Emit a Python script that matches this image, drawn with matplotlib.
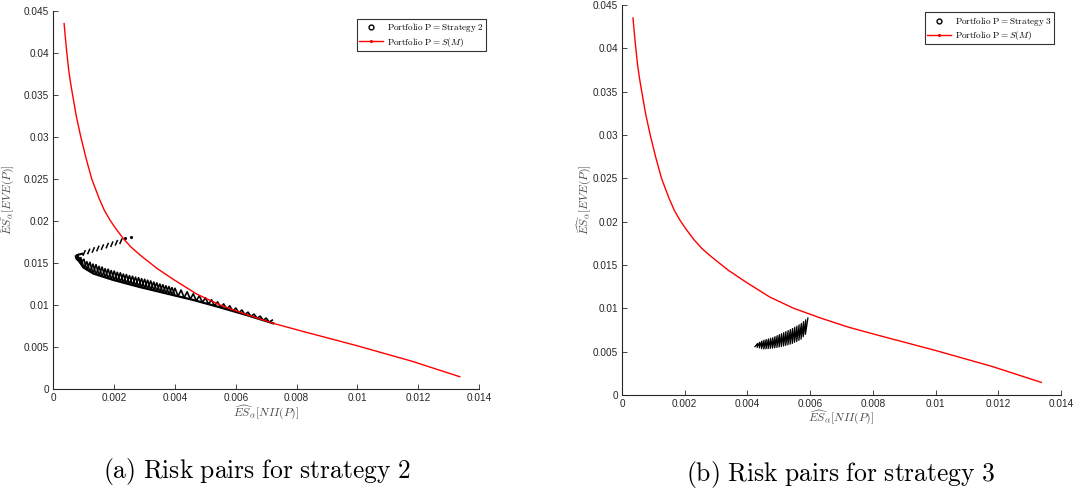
import numpy as np
import matplotlib
matplotlib.use("Agg")
import matplotlib.pyplot as plt
from matplotlib.lines import Line2D

plt.rcParams['mathtext.fontset'] = 'cm'
plt.rcParams['font.family'] = ['Liberation Sans', 'DejaVu Sans']

# efficient frontier S(M), same in both panels
sm_x = [0.00035, 0.0004, 0.00044, 0.0005, 0.00056, 0.00063, 0.00075, 0.0009, 0.00107, 0.00126,
        0.0015, 0.00167, 0.00186, 0.00205, 0.0023, 0.00255, 0.00285, 0.0034, 0.00394, 0.00471,
        0.00548, 0.00636, 0.00723, 0.00811, 0.00998, 0.0118, 0.01337]
sm_y = [0.0435, 0.0415, 0.040, 0.038, 0.0365, 0.035, 0.0325, 0.030, 0.0275, 0.025,
        0.0227, 0.0213, 0.0201, 0.0191, 0.0179, 0.0169, 0.01595, 0.01437, 0.01306, 0.01131,
        0.0100, 0.00885, 0.00782, 0.00695, 0.00516, 0.0033, 0.00146]

# strategy 2: main band (zigzag bottoms / tops)
s2_bot_x = [0.0009, 0.0011, 0.0013, 0.0015, 0.0017, 0.0019, 0.0021, 0.0023, 0.0025, 0.0027,
            0.0029, 0.0031, 0.0033, 0.0035, 0.0037, 0.0039, 0.0041, 0.0043, 0.0045, 0.0047,
            0.0049, 0.0051, 0.0053, 0.0055, 0.0057, 0.0059, 0.0061, 0.0063, 0.0065, 0.0067,
            0.0069, 0.0071]
s2_bot_y = [0.01497, 0.0142, 0.01377, 0.01352, 0.01328, 0.01305, 0.01285, 0.01266, 0.01247, 0.01228,
            0.0121, 0.01192, 0.01175, 0.01157, 0.0114, 0.01122, 0.01105, 0.01087, 0.01069, 0.0105,
            0.0103, 0.0101, 0.0099, 0.0097, 0.00949, 0.00928, 0.00907, 0.00886, 0.00864, 0.00841,
            0.00819, 0.00796]
s2_top_x = [0.001, 0.0012, 0.0014, 0.0016, 0.0018, 0.002, 0.0022, 0.0024, 0.0026, 0.0028,
            0.003, 0.0032, 0.0034, 0.0036, 0.0038, 0.004, 0.0042, 0.0044, 0.0046, 0.0048,
            0.005, 0.0052, 0.0054, 0.0056, 0.0058, 0.006, 0.0062, 0.0064, 0.0066, 0.0068,
            0.007, 0.0072]
s2_top_y = [0.01545, 0.01508, 0.0148, 0.01452, 0.01426, 0.01404, 0.01383, 0.01362, 0.01343, 0.01325,
            0.01306, 0.01286, 0.01263, 0.01241, 0.0122, 0.01199, 0.01178, 0.01157, 0.01133, 0.0111,
            0.01086, 0.01062, 0.01038, 0.01013, 0.0099, 0.00964, 0.0094, 0.00915, 0.00892, 0.00868,
            0.00844, 0.0082]
# crossing strokes in the thick left part of the band
s2_x2_top_x = [0.0009, 0.0011, 0.0013, 0.0015, 0.0017, 0.0019, 0.0021, 0.0023, 0.0025, 0.0027,
               0.0029, 0.0031, 0.0033, 0.0035, 0.0037, 0.0039]
s2_x2_top_y = [0.01562, 0.01515, 0.01487, 0.01459, 0.01432, 0.0141, 0.01389, 0.01368, 0.01349, 0.01331,
               0.01313, 0.01295, 0.01273, 0.0125, 0.01228, 0.01207]
s2_x2_bot_x = [0.001, 0.0012, 0.0014, 0.0016, 0.0018, 0.002, 0.0022, 0.0024, 0.0026, 0.0028,
               0.003, 0.0032, 0.0034, 0.0036, 0.0038, 0.004]
s2_x2_bot_y = [0.01445, 0.01398, 0.01364, 0.0134, 0.01316, 0.01295, 0.01275, 0.01256, 0.01237, 0.01219,
               0.01201, 0.01183, 0.01166, 0.01148, 0.01131, 0.01114]
# dense lower edge of the band
s2_edge_x = [0.00074, 0.00098, 0.00131, 0.00197, 0.00285, 0.00372, 0.0046, 0.00548, 0.00636, 0.00723]
s2_edge_y = [0.0158, 0.01448, 0.01375, 0.01298, 0.01213, 0.01137, 0.0106, 0.00972, 0.0088, 0.00782]
# curl at the left tip
s2_tip_x = [0.00095, 0.00082, 0.00075, 0.00074, 0.00077, 0.00085, 0.00095, 0.00088, 0.0008,
            0.00078, 0.00084, 0.00093]
s2_tip_y = [0.0161, 0.016, 0.01585, 0.01565, 0.01545, 0.0152, 0.015, 0.0154, 0.0157,
            0.0159, 0.01555, 0.01525]
# upper branch: short strokes + two loose points
s2_br_x0 = [0.00098, 0.00113, 0.00128, 0.00143, 0.00158, 0.00174, 0.00189, 0.00204, 0.00219]
s2_br_y0 = [0.01595, 0.01612, 0.0163, 0.01647, 0.01664, 0.01682, 0.01699, 0.01716, 0.01734]
s2_br_x1 = [0.00104, 0.00119, 0.00134, 0.00149, 0.00164, 0.0018, 0.00195, 0.0021, 0.00225]
s2_br_y1 = [0.01645, 0.01662, 0.0168, 0.01697, 0.01714, 0.01732, 0.01749, 0.01766, 0.01784]
s2_dot_x = [0.00235, 0.00254]
s2_dot_y = [0.01794, 0.01806]

# strategy 3: crescent of steep strokes
s3_bot_x = [0.00424, 0.00431, 0.00438, 0.00445, 0.00452, 0.00459, 0.00466, 0.00473, 0.0048, 0.00487,
            0.00494, 0.00501, 0.00508, 0.00515, 0.00522, 0.00529, 0.00536, 0.00543, 0.0055, 0.00557,
            0.00564, 0.00571, 0.00578, 0.00585]
s3_bot_y = [0.00557, 0.0055, 0.00543, 0.00535, 0.00531, 0.00533, 0.00535, 0.00538, 0.0054, 0.00545,
            0.00549, 0.00554, 0.00559, 0.00565, 0.00572, 0.00579, 0.00586, 0.00595, 0.00607, 0.00618,
            0.0063, 0.00644, 0.00672, 0.007]
s3_top_x = [0.00432, 0.00439, 0.00446, 0.00453, 0.0046, 0.00467, 0.00474, 0.00481, 0.00488, 0.00495,
            0.00502, 0.00509, 0.00516, 0.00523, 0.0053, 0.00537, 0.00544, 0.00551, 0.00558, 0.00565,
            0.00572, 0.00579, 0.00586, 0.00593]
s3_top_y = [0.00594, 0.00608, 0.00622, 0.00633, 0.0064, 0.00647, 0.00654, 0.00662, 0.00673, 0.00685,
            0.00697, 0.00708, 0.0072, 0.00732, 0.00743, 0.00755, 0.00768, 0.00782, 0.00796, 0.0081,
            0.00826, 0.00847, 0.00868, 0.00889]

x_ticks = [0, 0.002, 0.004, 0.006, 0.008, 0.01, 0.012, 0.014]
x_ticklabels = ['0', '0.002', '0.004', '0.006', '0.008', '0.01', '0.012', '0.014']
y_ticks = [0, 0.005, 0.01, 0.015, 0.02, 0.025, 0.03, 0.035, 0.04, 0.045]
y_ticklabels = ['0', '0.005', '0.01', '0.015', '0.02', '0.025', '0.03', '0.035', '0.04', '0.045']

GREY = '#262626'


def zigzag(bx, by, tx, ty):
    xs = np.column_stack([bx, tx]).ravel()
    ys = np.column_stack([by, ty]).ravel()
    return xs, ys


def style_axes(ax):
    ax.set_xlim(0, 0.014)
    ax.set_ylim(0, 0.045)
    ax.set_xticks(x_ticks)
    ax.set_xticklabels(x_ticklabels)
    ax.set_yticks(y_ticks)
    ax.set_yticklabels(y_ticklabels)
    for s in ['top', 'right']:
        ax.spines[s].set_visible(False)
    for s in ['left', 'bottom']:
        ax.spines[s].set_color(GREY)
        ax.spines[s].set_linewidth(0.8)
    ax.tick_params(direction='in', length=3.5, width=0.6, colors=GREY,
                   labelsize=7.2, pad=3)
    ax.set_xlabel(r'$\widehat{ES}_\alpha[NII(P)]$', fontsize=8.5, color='#4d4d4d')
    ax.set_ylabel(r'$\widehat{ES}_\alpha[EVE(P)]$', fontsize=8.5, color='#4d4d4d')


def add_legend(ax, name, anchor):
    handles = [Line2D([], [], ls='none', marker='o', ms=3.5, mfc='none', mec='black', mew=1.0),
               Line2D([], [], color='red', lw=1.0, marker='.', ms=2.5)]
    labels = [r'$\mathrm{Portfolio\ P} = \mathrm{' + name + '}$',
              r'$\mathrm{Portfolio\ P} = S(M)$']
    leg = ax.legend(handles, labels, loc='upper right', bbox_to_anchor=anchor,
                    fontsize=6.6, frameon=True, fancybox=False, borderaxespad=0,
                    handlelength=2.6, handletextpad=0.4, borderpad=0.25, labelspacing=0.15)
    leg.get_frame().set_edgecolor('black')
    leg.get_frame().set_linewidth(0.8)


fig = plt.figure(figsize=(10.78, 4.97), dpi=100)
ax1 = fig.add_axes([0.0496, 0.2173, 0.3947, 0.7606])
ax2 = fig.add_axes([0.5770, 0.2052, 0.4072, 0.7847])

# panel (a)
zx, zy = zigzag(s2_bot_x, s2_bot_y, s2_top_x, s2_top_y)
ax1.plot(zx, zy, color='black', lw=1.2)
zx, zy = zigzag(s2_x2_top_x, s2_x2_top_y, s2_x2_bot_x, s2_x2_bot_y)
ax1.plot(zx, zy, color='black', lw=1.2)
ax1.plot(s2_edge_x, s2_edge_y, color='black', lw=1.6)
ax1.plot(s2_tip_x, s2_tip_y, color='black', lw=1.5)
for i in range(len(s2_br_x0)):
    ax1.plot([s2_br_x0[i], s2_br_x1[i]], [s2_br_y0[i], s2_br_y1[i]], color='black', lw=1.1)
ax1.plot(s2_dot_x, s2_dot_y, ls='none', marker='.', ms=2.5, color='black')
ax1.plot(sm_x, sm_y, color='red', lw=1.0)
style_axes(ax1)
ax1.xaxis.set_label_coords(0.5, -0.04)
ax1.yaxis.set_label_coords(-0.086, 0.5)
add_legend(ax1, r'Strategy\ 2', (1.016, 0.979))

# panel (b)
zx, zy = zigzag(s3_bot_x, s3_bot_y, s3_top_x, s3_top_y)
ax2.plot(zx, zy, color='black', lw=0.9)
ax2.plot(sm_x, sm_y, color='red', lw=1.0)
style_axes(ax2)
ax2.xaxis.set_label_coords(0.5, -0.036)
ax2.yaxis.set_label_coords(-0.064, 0.5)
add_legend(ax2, r'Strategy\ 3', (0.984, 0.981))

fig.text(257 / 1078, 0.038, r'$\mathrm{(a)\ Risk\ pairs\ for\ strategy\ 2}$',
         fontsize=18.4, ha='center', va='baseline')
fig.text(841 / 1078, 0.032, r'$\mathrm{(b)\ Risk\ pairs\ for\ strategy\ 3}$',
         fontsize=18.4, ha='center', va='baseline')

fig.savefig('out.png', dpi=100)
